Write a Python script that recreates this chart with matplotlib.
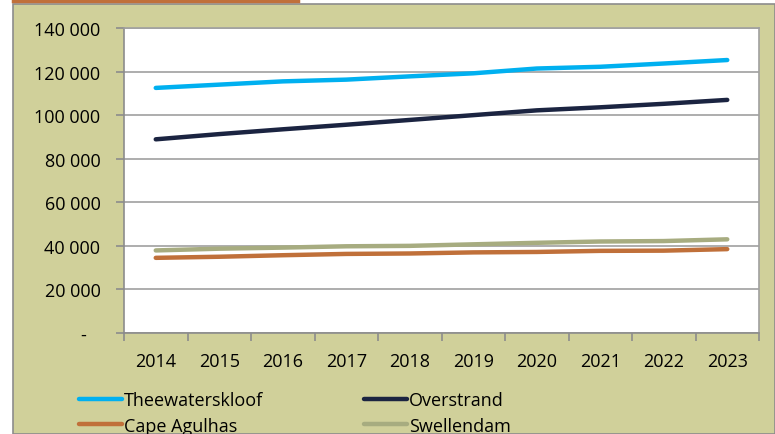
import matplotlib.pyplot as plt
from matplotlib.patches import Rectangle
from matplotlib.lines import Line2D
from matplotlib.ticker import FixedLocator, FuncFormatter

years = ["2014", "2015", "2016", "2017", "2018", "2019", "2020", "2021", "2022", "2023"]
theewaterskloof = [112500, 114000, 115500, 116300, 117800, 119200, 121400, 122200, 123700, 125300]
overstrand = [88900, 91300, 93500, 95600, 97800, 100000, 102200, 103600, 105200, 107000]
cape_agulhas = [34500, 35000, 35700, 36300, 36500, 37000, 37200, 37700, 37800, 38500]
swellendam = [37900, 38700, 39200, 39800, 40000, 40700, 41400, 42000, 42200, 43000]

KHAKI = "#d0d09a"
series = [
    ("Theewaterskloof", theewaterskloof, "#00b0f0"),
    ("Cape Agulhas", cape_agulhas, "#c0703a"),
    ("Overstrand", overstrand, "#1b2441"),
    ("Swellendam", swellendam, "#a7ac80"),
]

plt.rcParams["font.family"] = ["Open Sans", "DejaVu Sans"]

fig = plt.figure(figsize=(7.75, 4.35), dpi=100)
W, H = 775, 435

# khaki chart frame with grey border, orange rule above it
fig.add_artist(Rectangle((13 / W, 0), 1 - 13 / W, 1 - 5 / H, transform=fig.transFigure,
                         facecolor=KHAKI, edgecolor="#8c8c8c", linewidth=1.2, zorder=0))
fig.add_artist(Line2D([13 / W, 298 / W], [1 - 2 / H, 1 - 2 / H], transform=fig.transFigure,
                      color="#c0703a", linewidth=2.5))

ax = fig.add_axes([124 / W, 1 - 334 / H, (759 - 124) / W, (334 - 29) / H])
ax.set_facecolor("white")

x = range(len(years))
handles = []
for name, vals, col in series:
    h, = ax.plot(x, vals, color=col, linewidth=3.2, solid_capstyle="round", label=name, zorder=3)
    handles.append(h)

ax.set_xlim(-0.5, len(years) - 0.5)
ax.set_ylim(0, 140000)
ax.set_yticks(range(0, 140001, 20000))
ax.yaxis.set_major_formatter(FuncFormatter(
    lambda v, p: "-   " if v == 0 else f"{int(v):,}".replace(",", " ")))
ax.grid(axis="y", color="#a0a0a0", linewidth=1.2, zorder=1)

# category boundaries get the tick marks, centres get the labels
ax.xaxis.set_major_locator(FixedLocator([i - 0.5 for i in range(len(years) + 1)]))
ax.xaxis.set_major_formatter(FuncFormatter(lambda v, p: ""))
ax.xaxis.set_minor_locator(FixedLocator(list(x)))
ax.set_xticklabels(years, minor=True)
ax.tick_params(axis="x", which="major", length=6, color="#8c8c8c", width=1.2)
ax.tick_params(axis="x", which="minor", length=0, pad=14, labelsize=13)
ax.tick_params(axis="y", length=6, color="#8c8c8c", width=1.2, labelsize=13, pad=11)

for side in ["top", "right"]:
    ax.spines[side].set_color("#a0a0a0")
    ax.spines[side].set_linewidth(1.2)
for side in ["left", "bottom"]:
    ax.spines[side].set_color("#8c8c8c")
    ax.spines[side].set_linewidth(1.2)

fig.legend(handles=handles, ncol=2, loc="upper left",
           bbox_to_anchor=(79 / W, 1 - 392 / H), frameon=False, fontsize=13,
           handlelength=2.4, handletextpad=0.1, columnspacing=5.55, labelspacing=0.42,
           borderaxespad=0, borderpad=0)

fig.savefig("out.png", dpi=100)
